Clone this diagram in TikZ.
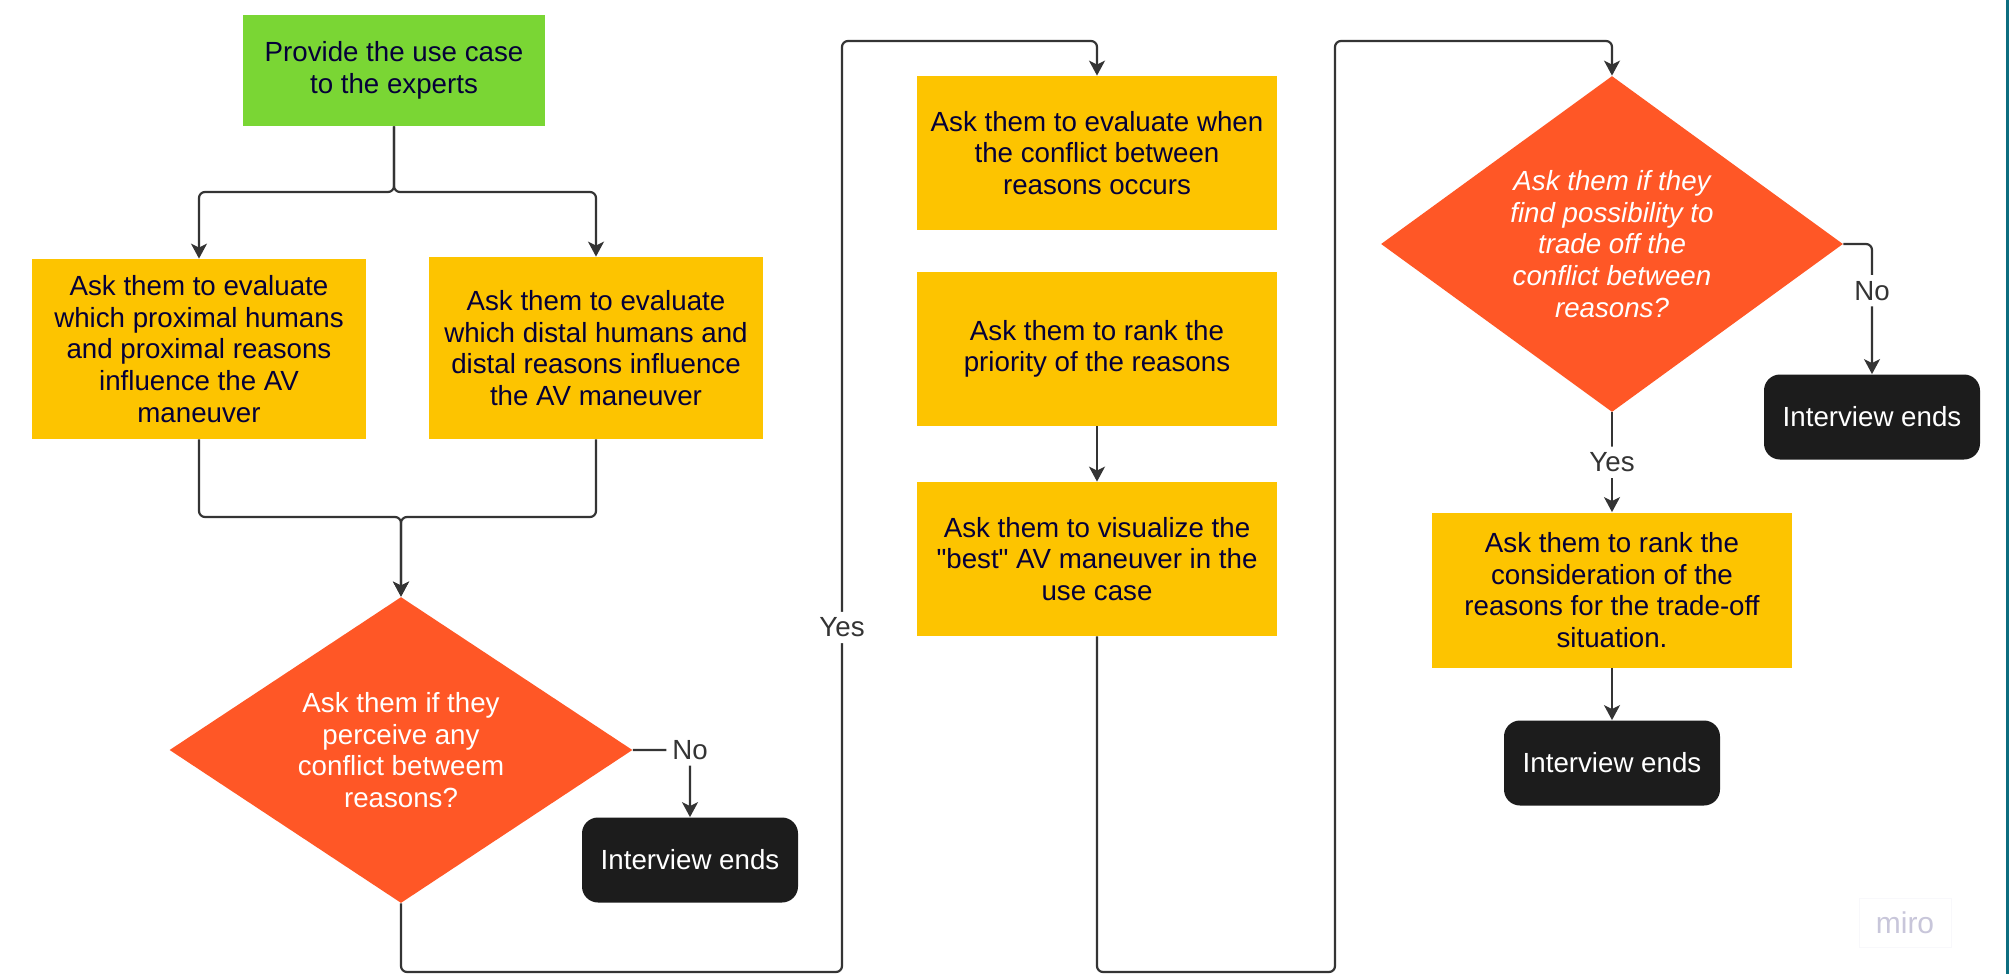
\documentclass[tikz,border=0pt]{standalone}
\usepackage{fontspec}
\setmainfont{Liberation Sans}[Ligatures=TeXOff]
\usetikzlibrary{shapes.geometric, arrows.meta, positioning}
\definecolor{startgreen}{RGB}{122,214,52}
\definecolor{stepyellow}{RGB}{253,196,0}
\definecolor{askorange}{RGB}{255,87,38}
\definecolor{endblack}{RGB}{28,28,28}
\definecolor{inkblue}{RGB}{5,0,56}
\definecolor{linegray}{RGB}{52,52,52}
\definecolor{mirogray}{RGB}{200,198,218}
\definecolor{edgeteal}{RGB}{13,110,128}
\newcommand{\boxfont}{\fontsize{13.85pt}{15.8pt}\selectfont}
\tikzset{
  startbox/.style={rectangle, fill=startgreen, text=inkblue, align=center,
                   minimum width=151pt, minimum height=55.5pt, font=\boxfont},
  askbox/.style={rectangle, fill=stepyellow, text=inkblue, align=center, inner sep=0pt,
                 minimum width=180pt, minimum height=77pt, font=\boxfont},
  decision/.style={diamond, fill=askorange, text=white, aspect=1.5, inner sep=0pt,
                   align=center, font=\boxfont},
  endbox/.style={rectangle, rounded corners=8pt, fill=endblack, text=white,
                 minimum width=108pt, minimum height=42.5pt, font=\boxfont},
  arrow/.style={-{Stealth[length=7.5pt, width=8pt, inset=2pt]}, line width=1.1pt,
                color=linegray, rounded corners=3pt},
  answer/.style={fill=white, text=linegray, font=\boxfont, inner sep=3pt},
}

\begin{document}
\begin{tikzpicture}[x=0.5pt, y=-0.5pt]
  \useasboundingbox (0,0) rectangle (2009,974);
  \fill[white] (0,0) rectangle (2009,974);
  \fill[edgeteal] (2005.5,0) rectangle (2009,974);

  % Start and the two evaluation steps
  \node[startbox] (start) at (394,70.5) {Provide the use case\\to the experts};
  \node[askbox, minimum width=167pt, minimum height=90pt] (proximal) at (199,349)
    {Ask them to evaluate\\which proximal humans\\and proximal reasons\\influence the AV\\maneuver};
  \node[askbox, minimum width=167pt, minimum height=91pt] (distal) at (596,348)
    {Ask them to evaluate\\which distal humans and\\distal reasons influence\\the AV maneuver};

  % First decision
  \node[decision, minimum width=231.5pt, minimum height=153pt] (conflict) at (401,750)
    {Ask them if they\\perceive any\\conflict betweem\\reasons?};
  \node[endbox] (endA) at (690,860) {Interview ends};

  % Middle column
  \node[askbox] (when) at (1097,153) {Ask them to evaluate when\\the conflict between\\reasons occurs};
  \node[askbox] (rank) at (1097,349) {Ask them to rank the\\priority of the reasons};
  \node[askbox] (best) at (1097,559) {Ask them to visualize the\\"best" AV maneuver in the\\use case};

  % Second decision
  \node[decision, minimum width=231pt, minimum height=168pt, font=\boxfont\itshape] (tradeoff) at (1612,244)
    {Ask them if they\\find possibility to\\trade off the\\conflict between\\reasons?};
  \node[endbox] (endB) at (1872,417) {Interview ends};
  \node[askbox, minimum height=77.5pt] (consider) at (1612,590)
    {Ask them to rank the\\consideration of the\\reasons for the trade-off\\situation.};
  \node[endbox] (endC) at (1612,763) {Interview ends};

  % Watermark
  \node[draw=mirogray!12, text=mirogray, font=\fontsize{15pt}{15pt}\selectfont,
        minimum width=46pt, minimum height=24.5pt] (miro) at (1905,922.5) {miro};

  % Corner points of the connectors
  \coordinate (split) at (394,192);
  \coordinate (merge) at (401,517);
  \coordinate (loopA) at (842,972);
  \coordinate (loopB) at (842,41);
  \coordinate (loopC) at (1335,972);
  \coordinate (loopD) at (1335,41);

  % Connectors
  \draw[arrow] (start.south) -- (split) -| (proximal.north);
  \draw[arrow] (start.south) -- (split) -| (distal.north);
  \draw[arrow] (proximal.south) |- (merge) -- (conflict.north);
  \draw[arrow] (distal.south) |- (merge) -- (conflict.north);
  \draw[arrow] (conflict.east) -| node[pos=0.5, answer]{No} (endA.north);
  \draw[arrow] (conflict.south) |- (loopA) -- node[pos=0.37, answer]{Yes} (loopB) -| (when.north);
  \draw[arrow] (rank) -- (best);
  \draw[arrow] (best.south) |- (loopC) -- (loopD) -| (tradeoff.north);
  \draw[arrow] (tradeoff.east) -| node[pos=0.68, answer]{No} (endB.north);
  \draw[arrow] (tradeoff.south) -- node[answer]{Yes} (consider.north);
  \draw[arrow] (consider) -- (endC);
\end{tikzpicture}
\end{document}
